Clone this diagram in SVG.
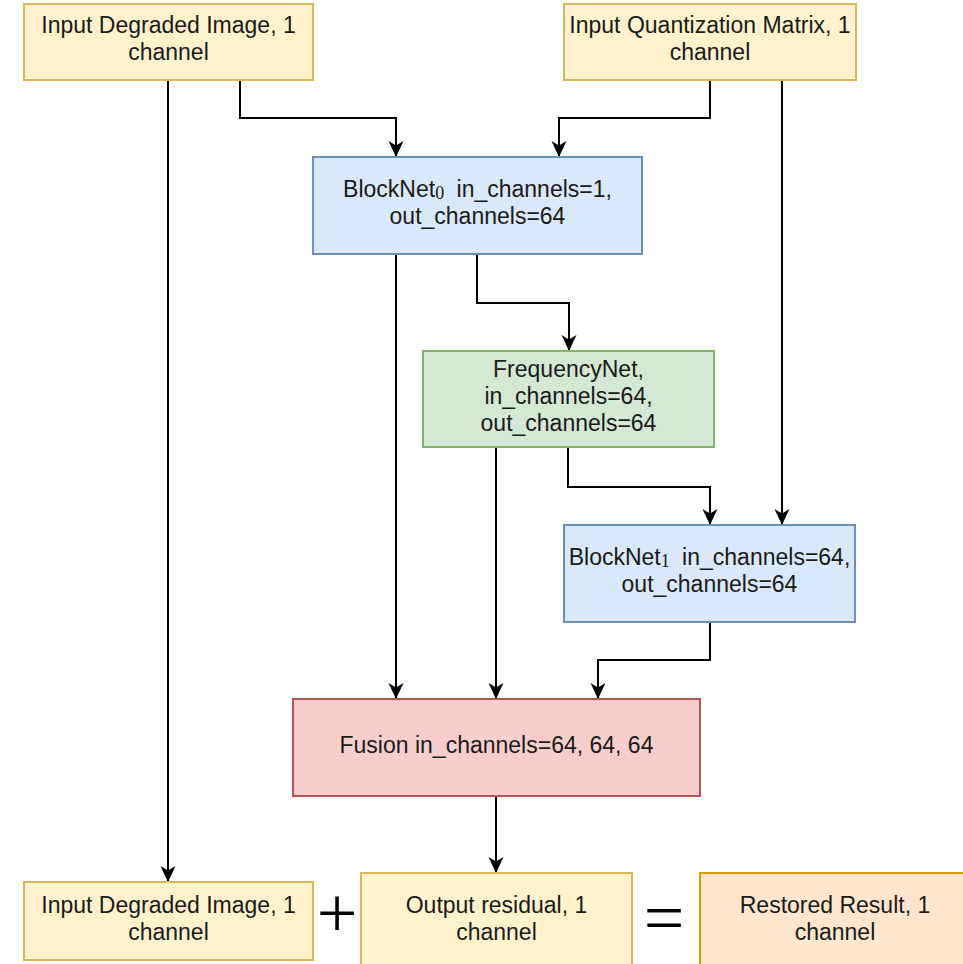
<svg xmlns="http://www.w3.org/2000/svg" width="963" height="964" viewBox="0 0 963 964">
<defs>
<marker id="arr" markerUnits="userSpaceOnUse" markerWidth="18" markerHeight="16" refX="16" refY="7.5" orient="auto">
<path d="M0,0 L16,7.5 L0,15 L4.5,7.5 z" fill="#000"/>
</marker>
<style>
.t{font-family:"Liberation Sans",Arial,sans-serif;font-size:23px;fill:#1a1a1a;text-anchor:middle}
.sub{font-family:"Liberation Serif","DejaVu Serif",serif;font-size:18px}
.op{font-family:"Liberation Serif","DejaVu Serif",serif;font-size:72px;fill:#000;text-anchor:middle}
.yel{fill:#fff2cc;stroke:#d6b656;stroke-width:2}
.blu{fill:#dae8fc;stroke:#6c8ebf;stroke-width:2}
.grn{fill:#d5e8d4;stroke:#82b366;stroke-width:2}
.red{fill:#f8cecc;stroke:#b85450;stroke-width:2}
.org{fill:#ffe6cc;stroke:#d79b00;stroke-width:2}
.c{fill:none;stroke:#000;stroke-width:2;marker-end:url(#arr)}
</style>
</defs>
<rect width="963" height="964" fill="#fff"/>
<g id="connectors">
<path class="c" d="M168,80 V882"/>
<path class="c" d="M240,80 V118 H396 V157"/>
<path class="c" d="M710,80 V118 H559 V157"/>
<path class="c" d="M782,80 V525"/>
<path class="c" d="M396,254 V699"/>
<path class="c" d="M477,254 V303 H569 V351"/>
<path class="c" d="M496,447 V699"/>
<path class="c" d="M568,447 V487 H710 V525"/>
<path class="c" d="M710,622 V660 H598 V699"/>
<path class="c" d="M496,796 V873"/>
</g>
<g id="input-degraded-top">
<rect class="yel" x="24" y="4" width="289" height="76"/>
<text class="t" x="168.5" y="33">Input Degraded Image, 1</text>
<text class="t" x="168.5" y="60">channel</text>
</g>
<g id="input-quant">
<rect class="yel" x="564" y="4" width="292" height="76"/>
<text class="t" x="710" y="33">Input Quantization Matrix, 1</text>
<text class="t" x="710" y="60">channel</text>
</g>
<g id="blocknet0">
<rect class="blu" x="313" y="157" width="329" height="97"/>
<text class="t" x="477.5" y="197">BlockNet<tspan class="sub" dy="2">0</tspan><tspan dx="6" dy="-2"> in_channels=1,</tspan></text>
<text class="t" x="477.5" y="224">out_channels=64</text>
</g>
<g id="frequencynet">
<rect class="grn" x="423" y="351" width="291" height="96"/>
<text class="t" x="568.5" y="377">FrequencyNet,</text>
<text class="t" x="568.5" y="404">in_channels=64,</text>
<text class="t" x="568.5" y="431">out_channels=64</text>
</g>
<g id="blocknet1">
<rect class="blu" x="564" y="525" width="291" height="97"/>
<text class="t" x="709.5" y="565">BlockNet<tspan class="sub" dy="2">1</tspan><tspan dx="6" dy="-2"> in_channels=64,</tspan></text>
<text class="t" x="709.5" y="592">out_channels=64</text>
</g>
<g id="fusion">
<rect class="red" x="293" y="699" width="407" height="97"/>
<text class="t" x="496.5" y="753">Fusion in_channels=64, 64, 64</text>
</g>
<g id="input-degraded-bottom">
<rect class="yel" x="24" y="882" width="289" height="78"/>
<text class="t" x="168.5" y="913">Input Degraded Image, 1</text>
<text class="t" x="168.5" y="940">channel</text>
</g>
<g id="plus">
<text class="op" x="337" y="937">+</text>
</g>
<g id="output-residual">
<rect class="yel" x="361" y="873" width="271" height="96"/>
<text class="t" x="496.5" y="913">Output residual, 1</text>
<text class="t" x="496.5" y="940">channel</text>
</g>
<g id="equals">
<text class="op" x="664" y="942">=</text>
</g>
<g id="restored">
<rect class="org" x="700" y="873" width="272" height="96"/>
<text class="t" x="835" y="913">Restored Result, 1</text>
<text class="t" x="835" y="940">channel</text>
</g>
</svg>
